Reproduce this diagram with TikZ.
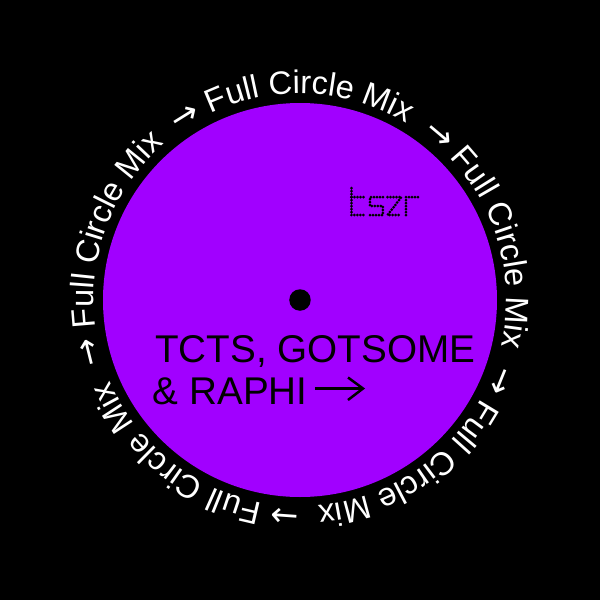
\documentclass[tikz,border=0pt]{standalone}
\usepackage{fontspec}
\setmainfont{Liberation Sans}
\newfontfamily\ringarrow{DejaVu Sans}
\usetikzlibrary{decorations.text}
\definecolor{discpurple}{HTML}{A100FF}
\newcommand{\ringsize}{\fontsize{18.5}{20}\selectfont}
\newcommand{\arrowsize}{\fontsize{19}{20}\selectfont}
\tikzset{
  titletext/.style={anchor=base west, inner sep=0pt, text=black, font=\fontsize{22}{25}\selectfont},
  titlearrow/.style={line width=.05cm},
  logoline/.style={line width=.06cm, line cap=round, dash pattern=on 0pt off .06cm},
  ringline/.style={decorate, decoration={text along path, text color=white,
      text={|\ringarrow\arrowsize|→|| Full Circle Mix}}},
}
\begin{document}
\begin{tikzpicture}
  \useasboundingbox[fill=black] (-6, -6) rectangle (6, 6);
  \fill[discpurple] (0, 0) circle (3.94);
  \fill[black] (0, 0) circle (.215);

  % ring of text
  \ringsize
  \foreach \a in {125.8, 53.8, -18.2, -90.2, -162.2} {
    \path[ringline] (\a:4.13) arc[start angle=\a, end angle={\a-72}, radius=4.13];
  }

  \node[titletext] (line1) at (-2.9, -1.24) {TCTS, GOTSOME};
  \node[titletext] (line2) at (-2.95, -2.08) {\& RAPHI};
  \coordinate (tip) at (1.26, -1.77);
  \draw[titlearrow] (.3, -1.77) -- (tip);
  \draw[titlearrow] (.96, -1.55) -- (tip) -- (.96, -2);

  % logo
  \draw[logoline] (1.03, 2.24) -- (1.03, 1.7) -- (1.3, 1.7);
  \draw[logoline] (1.03, 2.06) -- (1.3, 2.06);
  \draw[logoline] (1.66, 2.06) -- (1.4, 2.06) -- (1.4, 1.88) -- (1.66, 1.88) -- (1.66, 1.7) -- (1.4, 1.7);
  \draw[logoline] (1.75, 2.06) -- (2.03, 2.06) -- (1.75, 1.7) -- (2.03, 1.7);
  \draw[logoline] (2.12, 1.7) -- (2.12, 2.06) -- (2.38, 2.06);
\end{tikzpicture}
\end{document}
